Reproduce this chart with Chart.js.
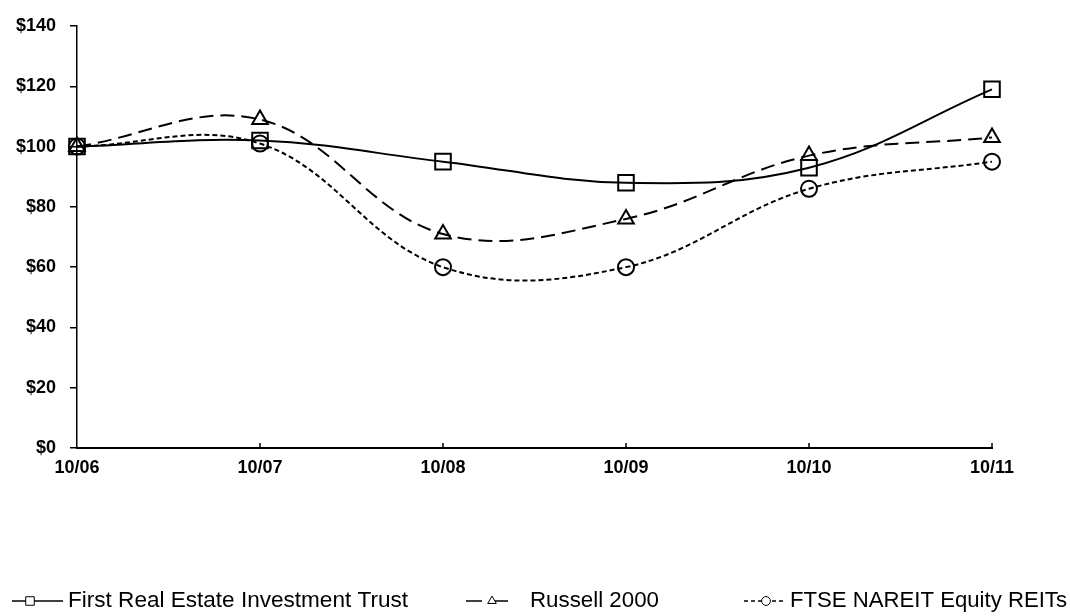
<!DOCTYPE html>
<html>
<head>
<meta charset="utf-8">
<script src="https://cdn.jsdelivr.net/npm/chart.js@4.4.0/dist/chart.umd.min.js"></script>
<style>
  html, body { margin: 0; padding: 0; background: #fff; }
  #wrap { width: 1070px; height: 616px; }
</style>
</head>
<body>
<div id="wrap"><canvas id="chart" width="1070" height="616"></canvas></div>
<script>
// data
const periods = ['10/06', '10/07', '10/08', '10/09', '10/10', '10/11'];
const firstReal = [100, 102, 95, 88, 93, 119];
const russell = [100, 109, 71, 76, 97, 103];
const ftseNareit = [100, 101, 60, 60, 86, 95];
const seriesNames = ['First Real Estate Investment Trust', 'Russell 2000', 'FTSE NAREIT Equity REITs'];
const yTicks = [0, 20, 40, 60, 80, 100, 120, 140];

const tickFont = {family: '"Liberation Sans", Arial, sans-serif', size: 18, weight: 'bold'};

// small inward ticks on the x axis + legend drawn at the bottom
const extras = {
    id: 'extras',
    afterDraw(chart) {
        const ctx = chart.ctx;
        const x = chart.scales.x;
        const bottom = chart.chartArea.bottom;
        ctx.save();
        ctx.strokeStyle = '#000';
        ctx.lineWidth = 1.5;
        periods.forEach((p, i) => {
            if (i === 0) return;
            const px = x.getPixelForValue(i);
            ctx.beginPath();
            ctx.moveTo(px, bottom);
            ctx.lineTo(px, bottom - 5);
            ctx.stroke();
        });

        // legend (positions)
        const y = 601;
        const items = [
            {lineFrom: 12, lineTo: 63, marker: 30, text: 68, width: 340},
            {lineFrom: 466, lineTo: 516, marker: 492, text: 530, width: 129},
            {lineFrom: 744, lineTo: 786, marker: 766, text: 790, width: 277}
        ];
        chart.data.datasets.forEach((ds, i) => {
            const it = items[i];
            ctx.strokeStyle = '#000';
            ctx.setLineDash(ds.legendDash || []);
            ctx.lineWidth = 1.5;
            ctx.beginPath();
            ctx.moveTo(it.lineFrom, y);
            ctx.lineTo(it.lineTo, y);
            ctx.stroke();
            ctx.setLineDash([]);
            ctx.lineWidth = 1;
            ctx.fillStyle = '#fff';
            Chart.helpers.drawPoint(ctx, {pointStyle: ds.pointStyle, radius: ds.pointRadius * 0.55, borderWidth: 1}, it.marker, y);

            ctx.fillStyle = '#000';
            ctx.font = '22px "Liberation Sans", Arial, sans-serif';
            ctx.textBaseline = 'middle';
            const w = ctx.measureText(seriesNames[i]).width;
            ctx.save();
            ctx.translate(it.text, y);
            ctx.scale(it.width / w, 1);
            ctx.fillText(seriesNames[i], 0, 0);
            ctx.restore();
        });
        ctx.restore();
    }
};

const baseSet = {
    borderColor: '#000',
    backgroundColor: 'rgba(0,0,0,0)',
    pointBackgroundColor: 'rgba(0,0,0,0)',
    pointBorderColor: '#000',
    pointBorderWidth: 2,
    tension: 0.38,
    fill: false
};

new Chart(document.getElementById('chart'), {
    type: 'line',
    data: {
        labels: periods,
        datasets: [
            Object.assign({}, baseSet, {
                label: seriesNames[0], data: firstReal,
                borderWidth: 2, pointStyle: 'rect', pointRadius: 11
            }),
            Object.assign({}, baseSet, {
                label: seriesNames[1], data: russell,
                borderWidth: 2, borderDash: [14, 7], legendDash: [16, 10],
                pointStyle: 'triangle', pointRadius: 9
            }),
            Object.assign({}, baseSet, {
                label: seriesNames[2], data: ftseNareit,
                borderWidth: 2, borderDash: [5, 3], legendDash: [4, 3],
                pointStyle: 'circle', pointRadius: 8
            })
        ]
    },
    options: {
        responsive: false,
        animation: false,
        layout: {padding: {top: 26, right: 78, bottom: 134, left: 0}},
        plugins: {
            legend: {display: false},
            tooltip: {enabled: false}
        },
        scales: {
            x: {
                offset: false,
                grid: {display: false},
                border: {display: true, color: '#000', width: 2},
                ticks: {color: '#000', font: tickFont, padding: 1, maxRotation: 0},
                afterFit(scale) { scale.height = 34; }
            },
            y: {
                min: 0,
                max: 140,
                afterBuildTicks(scale) { scale.ticks = yTicks.map(v => ({value: v})); },
                grid: {drawOnChartArea: false, color: '#000', tickLength: 7, lineWidth: 1.5},
                border: {display: true, color: '#000', width: 1.5},
                ticks: {color: '#000', font: tickFont, padding: 14, callback: v => '$' + v},
                afterFit(scale) { scale.width = 77; }
            }
        }
    },
    plugins: [extras]
});
</script>
</body>
</html>
